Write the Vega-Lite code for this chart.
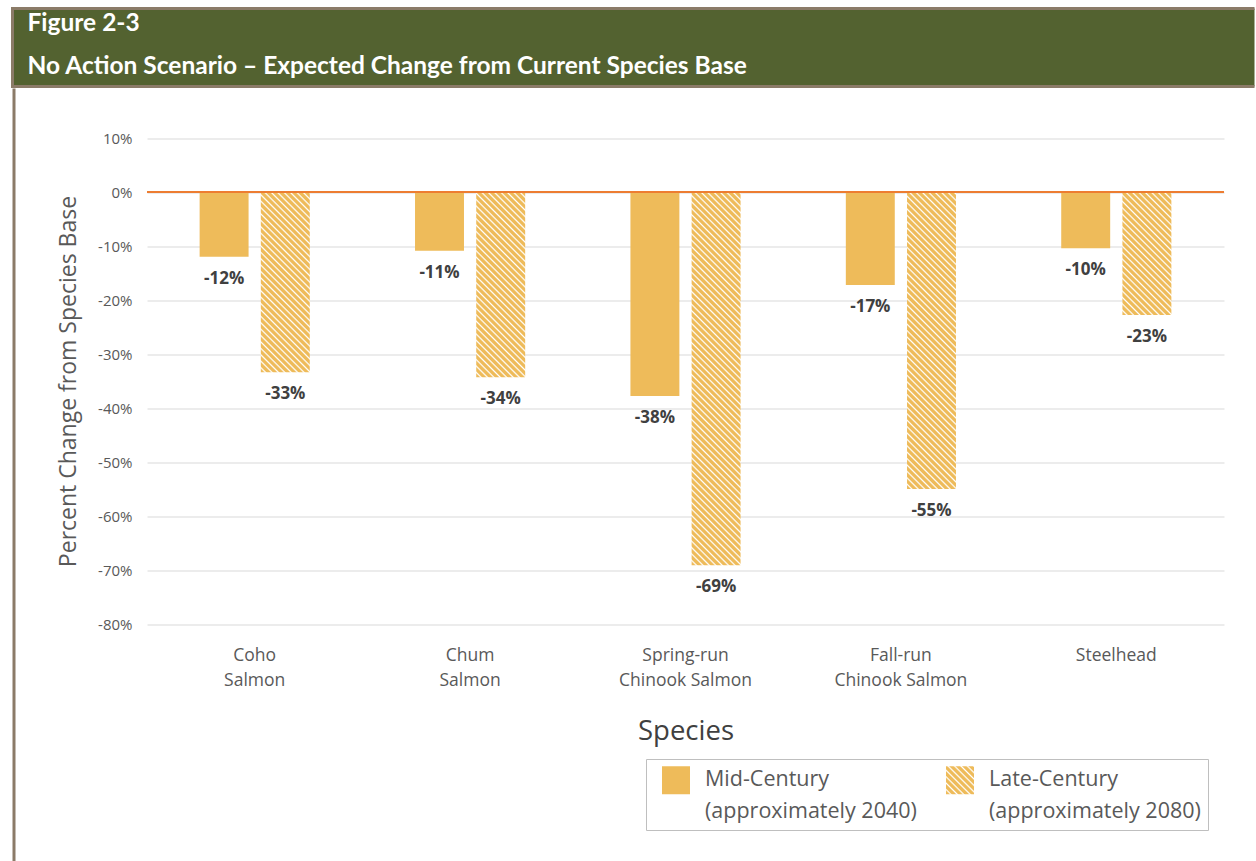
{
  "$schema": "https://vega.github.io/schema/vega-lite/v6.json",
  "padding": {"left": 10.5, "top": 6.5, "right": 0, "bottom": 0},
  "background": "#FFFFFF",
  "config": {
    "view": {"stroke": null},
    "font": "Open Sans",
    "style": {"guide-label": {"lineHeight": 32}},
    "locale": {"number": {"decimal": ".", "thousands": ",", "grouping": [3], "currency": ["$", ""], "minus": "-"}}
  },
  "params": [
    {"name": "hatch", "value": [
      {"offset":0,"color":"#EEBB5A"},{"offset":0.006,"color":"#EEBB5A"},{"offset":0.0095,"color":"#FFFFFF"},
      {"offset":0.0125,"color":"#EEBB5A"},{"offset":0.0185,"color":"#EEBB5A"},{"offset":0.022,"color":"#FFFFFF"},
      {"offset":0.025,"color":"#EEBB5A"},{"offset":0.031,"color":"#EEBB5A"},{"offset":0.0345,"color":"#FFFFFF"},
      {"offset":0.0375,"color":"#EEBB5A"},{"offset":0.0435,"color":"#EEBB5A"},{"offset":0.047,"color":"#FFFFFF"},
      {"offset":0.05,"color":"#EEBB5A"},{"offset":0.056,"color":"#EEBB5A"},{"offset":0.0595,"color":"#FFFFFF"},
      {"offset":0.0625,"color":"#EEBB5A"},{"offset":0.0685,"color":"#EEBB5A"},{"offset":0.072,"color":"#FFFFFF"},
      {"offset":0.075,"color":"#EEBB5A"},{"offset":0.081,"color":"#EEBB5A"},{"offset":0.0845,"color":"#FFFFFF"},
      {"offset":0.0875,"color":"#EEBB5A"},{"offset":0.0935,"color":"#EEBB5A"},{"offset":0.097,"color":"#FFFFFF"},
      {"offset":0.1,"color":"#EEBB5A"},{"offset":0.106,"color":"#EEBB5A"},{"offset":0.1095,"color":"#FFFFFF"},
      {"offset":0.1125,"color":"#EEBB5A"},{"offset":0.1185,"color":"#EEBB5A"},{"offset":0.122,"color":"#FFFFFF"},
      {"offset":0.125,"color":"#EEBB5A"},{"offset":0.131,"color":"#EEBB5A"},{"offset":0.1345,"color":"#FFFFFF"},
      {"offset":0.1375,"color":"#EEBB5A"},{"offset":0.1435,"color":"#EEBB5A"},{"offset":0.147,"color":"#FFFFFF"},
      {"offset":0.15,"color":"#EEBB5A"},{"offset":0.156,"color":"#EEBB5A"},{"offset":0.1595,"color":"#FFFFFF"},
      {"offset":0.1625,"color":"#EEBB5A"},{"offset":0.1685,"color":"#EEBB5A"},{"offset":0.172,"color":"#FFFFFF"},
      {"offset":0.175,"color":"#EEBB5A"},{"offset":0.181,"color":"#EEBB5A"},{"offset":0.1845,"color":"#FFFFFF"},
      {"offset":0.1875,"color":"#EEBB5A"},{"offset":0.1935,"color":"#EEBB5A"},{"offset":0.197,"color":"#FFFFFF"},
      {"offset":0.2,"color":"#EEBB5A"},{"offset":0.206,"color":"#EEBB5A"},{"offset":0.2095,"color":"#FFFFFF"},
      {"offset":0.2125,"color":"#EEBB5A"},{"offset":0.2185,"color":"#EEBB5A"},{"offset":0.222,"color":"#FFFFFF"},
      {"offset":0.225,"color":"#EEBB5A"},{"offset":0.231,"color":"#EEBB5A"},{"offset":0.2345,"color":"#FFFFFF"},
      {"offset":0.2375,"color":"#EEBB5A"},{"offset":0.2435,"color":"#EEBB5A"},{"offset":0.247,"color":"#FFFFFF"},
      {"offset":0.25,"color":"#EEBB5A"},{"offset":0.256,"color":"#EEBB5A"},{"offset":0.2595,"color":"#FFFFFF"},
      {"offset":0.2625,"color":"#EEBB5A"},{"offset":0.2685,"color":"#EEBB5A"},{"offset":0.272,"color":"#FFFFFF"},
      {"offset":0.275,"color":"#EEBB5A"},{"offset":0.281,"color":"#EEBB5A"},{"offset":0.2845,"color":"#FFFFFF"},
      {"offset":0.2875,"color":"#EEBB5A"},{"offset":0.2935,"color":"#EEBB5A"},{"offset":0.297,"color":"#FFFFFF"},
      {"offset":0.3,"color":"#EEBB5A"},{"offset":0.306,"color":"#EEBB5A"},{"offset":0.3095,"color":"#FFFFFF"},
      {"offset":0.3125,"color":"#EEBB5A"},{"offset":0.3185,"color":"#EEBB5A"},{"offset":0.322,"color":"#FFFFFF"},
      {"offset":0.325,"color":"#EEBB5A"},{"offset":0.331,"color":"#EEBB5A"},{"offset":0.3345,"color":"#FFFFFF"},
      {"offset":0.3375,"color":"#EEBB5A"},{"offset":0.3435,"color":"#EEBB5A"},{"offset":0.347,"color":"#FFFFFF"},
      {"offset":0.35,"color":"#EEBB5A"},{"offset":0.356,"color":"#EEBB5A"},{"offset":0.3595,"color":"#FFFFFF"},
      {"offset":0.3625,"color":"#EEBB5A"},{"offset":0.3685,"color":"#EEBB5A"},{"offset":0.372,"color":"#FFFFFF"},
      {"offset":0.375,"color":"#EEBB5A"},{"offset":0.381,"color":"#EEBB5A"},{"offset":0.3845,"color":"#FFFFFF"},
      {"offset":0.3875,"color":"#EEBB5A"},{"offset":0.3935,"color":"#EEBB5A"},{"offset":0.397,"color":"#FFFFFF"},
      {"offset":0.4,"color":"#EEBB5A"},{"offset":0.406,"color":"#EEBB5A"},{"offset":0.4095,"color":"#FFFFFF"},
      {"offset":0.4125,"color":"#EEBB5A"},{"offset":0.4185,"color":"#EEBB5A"},{"offset":0.422,"color":"#FFFFFF"},
      {"offset":0.425,"color":"#EEBB5A"},{"offset":0.431,"color":"#EEBB5A"},{"offset":0.4345,"color":"#FFFFFF"},
      {"offset":0.4375,"color":"#EEBB5A"},{"offset":0.4435,"color":"#EEBB5A"},{"offset":0.447,"color":"#FFFFFF"},
      {"offset":0.45,"color":"#EEBB5A"},{"offset":0.456,"color":"#EEBB5A"},{"offset":0.4595,"color":"#FFFFFF"},
      {"offset":0.4625,"color":"#EEBB5A"},{"offset":0.4685,"color":"#EEBB5A"},{"offset":0.472,"color":"#FFFFFF"},
      {"offset":0.475,"color":"#EEBB5A"},{"offset":0.481,"color":"#EEBB5A"},{"offset":0.4845,"color":"#FFFFFF"},
      {"offset":0.4875,"color":"#EEBB5A"},{"offset":0.4935,"color":"#EEBB5A"},{"offset":0.497,"color":"#FFFFFF"},
      {"offset":0.5,"color":"#EEBB5A"},{"offset":0.506,"color":"#EEBB5A"},{"offset":0.5095,"color":"#FFFFFF"},
      {"offset":0.5125,"color":"#EEBB5A"},{"offset":0.5185,"color":"#EEBB5A"},{"offset":0.522,"color":"#FFFFFF"},
      {"offset":0.525,"color":"#EEBB5A"},{"offset":0.531,"color":"#EEBB5A"},{"offset":0.5345,"color":"#FFFFFF"},
      {"offset":0.5375,"color":"#EEBB5A"},{"offset":0.5435,"color":"#EEBB5A"},{"offset":0.547,"color":"#FFFFFF"},
      {"offset":0.55,"color":"#EEBB5A"},{"offset":0.556,"color":"#EEBB5A"},{"offset":0.5595,"color":"#FFFFFF"},
      {"offset":0.5625,"color":"#EEBB5A"},{"offset":0.5685,"color":"#EEBB5A"},{"offset":0.572,"color":"#FFFFFF"},
      {"offset":0.575,"color":"#EEBB5A"},{"offset":0.581,"color":"#EEBB5A"},{"offset":0.5845,"color":"#FFFFFF"},
      {"offset":0.5875,"color":"#EEBB5A"},{"offset":0.5935,"color":"#EEBB5A"},{"offset":0.597,"color":"#FFFFFF"},
      {"offset":0.6,"color":"#EEBB5A"},{"offset":0.606,"color":"#EEBB5A"},{"offset":0.6095,"color":"#FFFFFF"},
      {"offset":0.6125,"color":"#EEBB5A"},{"offset":0.6185,"color":"#EEBB5A"},{"offset":0.622,"color":"#FFFFFF"},
      {"offset":0.625,"color":"#EEBB5A"},{"offset":0.631,"color":"#EEBB5A"},{"offset":0.6345,"color":"#FFFFFF"},
      {"offset":0.6375,"color":"#EEBB5A"},{"offset":0.6435,"color":"#EEBB5A"},{"offset":0.647,"color":"#FFFFFF"},
      {"offset":0.65,"color":"#EEBB5A"},{"offset":0.656,"color":"#EEBB5A"},{"offset":0.6595,"color":"#FFFFFF"},
      {"offset":0.6625,"color":"#EEBB5A"},{"offset":0.6685,"color":"#EEBB5A"},{"offset":0.672,"color":"#FFFFFF"},
      {"offset":0.675,"color":"#EEBB5A"},{"offset":0.681,"color":"#EEBB5A"},{"offset":0.6845,"color":"#FFFFFF"},
      {"offset":0.6875,"color":"#EEBB5A"},{"offset":0.6935,"color":"#EEBB5A"},{"offset":0.697,"color":"#FFFFFF"},
      {"offset":0.7,"color":"#EEBB5A"},{"offset":0.706,"color":"#EEBB5A"},{"offset":0.7095,"color":"#FFFFFF"},
      {"offset":0.7125,"color":"#EEBB5A"},{"offset":0.7185,"color":"#EEBB5A"},{"offset":0.722,"color":"#FFFFFF"},
      {"offset":0.725,"color":"#EEBB5A"},{"offset":0.731,"color":"#EEBB5A"},{"offset":0.7345,"color":"#FFFFFF"},
      {"offset":0.7375,"color":"#EEBB5A"},{"offset":0.7435,"color":"#EEBB5A"},{"offset":0.747,"color":"#FFFFFF"},
      {"offset":0.75,"color":"#EEBB5A"},{"offset":0.756,"color":"#EEBB5A"},{"offset":0.7595,"color":"#FFFFFF"},
      {"offset":0.7625,"color":"#EEBB5A"},{"offset":0.7685,"color":"#EEBB5A"},{"offset":0.772,"color":"#FFFFFF"},
      {"offset":0.775,"color":"#EEBB5A"},{"offset":0.781,"color":"#EEBB5A"},{"offset":0.7845,"color":"#FFFFFF"},
      {"offset":0.7875,"color":"#EEBB5A"},{"offset":0.7935,"color":"#EEBB5A"},{"offset":0.797,"color":"#FFFFFF"},
      {"offset":0.8,"color":"#EEBB5A"},{"offset":0.806,"color":"#EEBB5A"},{"offset":0.8095,"color":"#FFFFFF"},
      {"offset":0.8125,"color":"#EEBB5A"},{"offset":0.8185,"color":"#EEBB5A"},{"offset":0.822,"color":"#FFFFFF"},
      {"offset":0.825,"color":"#EEBB5A"},{"offset":0.831,"color":"#EEBB5A"},{"offset":0.8345,"color":"#FFFFFF"},
      {"offset":0.8375,"color":"#EEBB5A"}
    ]}
  ],
  "spacing": 0,
  "vconcat": [
    {
      "width": 1242,
      "height": 78,
      "view": {"fill": "#536230", "stroke": "#8B7B68", "strokeWidth": 3, "strokeDash": [1242, 78, 1320]},
      "title": {
        "text": "Figure 2-3",
        "subtitle": "No Action Scenario – Expected Change from Current Species Base",
        "anchor": "start",
        "frame": "group",
        "orient": "top",
        "offset": -71.25,
        "dx": 15,
        "baseline": "top",
        "font": "Lato",
        "fontSize": 24.5,
        "fontWeight": "bold",
        "color": "#FFFFFF",
        "subtitleFont": "Lato",
        "subtitleFontSize": 24.5,
        "subtitleFontWeight": "bold",
        "subtitleColor": "#FFFFFF",
        "subtitlePadding": 18.5
      },
      "data": {"values": [{}]},
      "mark": {"type": "text", "text": ""}
    },
    {
      "spacing": 41.5,
      "hconcat": [
        {
          "width": 3,
          "height": 773.5,
          "view": {"fill": "#8B7B68", "stroke": null},
          "data": {"values": [{}]},
          "mark": {"type": "text", "text": ""}
        },
        {
          "width": 1077,
          "height": 535.5,
          "data": {"values": [
            {"species": "Coho Salmon", "period": "Mid-Century (approximately 2040)", "pct": -0.120},
            {"species": "Coho Salmon", "period": "Late-Century (approximately 2080)", "pct": -0.334},
            {"species": "Chum Salmon", "period": "Mid-Century (approximately 2040)", "pct": -0.109},
            {"species": "Chum Salmon", "period": "Late-Century (approximately 2080)", "pct": -0.343},
            {"species": "Spring-run Chinook Salmon", "period": "Mid-Century (approximately 2040)", "pct": -0.378},
            {"species": "Spring-run Chinook Salmon", "period": "Late-Century (approximately 2080)", "pct": -0.691},
            {"species": "Fall-run Chinook Salmon", "period": "Mid-Century (approximately 2040)", "pct": -0.172},
            {"species": "Fall-run Chinook Salmon", "period": "Late-Century (approximately 2080)", "pct": -0.550},
            {"species": "Steelhead", "period": "Mid-Century (approximately 2040)", "pct": -0.104},
            {"species": "Steelhead", "period": "Late-Century (approximately 2080)", "pct": -0.228}
          ]},
          "layer": [
            {
              "transform": [{"filter": "datum.period === 'Mid-Century (approximately 2040)'"}],
              "mark": {"type": "bar"},
              "encoding": {
                "x": {
                  "field": "species", "type": "nominal", "sort": null, "title": "Species",
                  "scale": {"paddingInner": 0, "paddingOuter": 0},
                  "axis": {
                    "domain": false, "ticks": false, "grid": false, "labelAngle": 0,
                    "labelFont": "Open Sans", "labelFontSize": 17.5, "labelColor": "#595959",
                    "labelLineHeight": 25, "labelPadding": 22, "labelBaseline": "top",
                    "labelExpr": "indexof(datum.label, ' ') < 0 ? datum.label : [substring(datum.label, 0, indexof(datum.label, ' ')), substring(datum.label, indexof(datum.label, ' ') + 1)]",
                    "titleFont": "Open Sans", "titleFontSize": 27.5, "titleFontWeight": "normal",
                    "titleColor": "#404040", "titlePadding": 29
                  }
                },
                "xOffset": {
                  "field": "period", "type": "nominal", "sort": null,
                  "scale": {"domain": ["Mid-Century (approximately 2040)", "Late-Century (approximately 2080)"], "paddingInner": 0.2, "paddingOuter": 0.86}
                },
                "y": {
                  "field": "pct", "type": "quantitative", "title": "Percent Change from Species Base",
                  "scale": {"domain": [-0.8, 0.19167], "nice": false, "zero": false},
                  "axis": {
                    "values": [-0.8, -0.7, -0.6, -0.5, -0.4, -0.3, -0.2, -0.1, 0, 0.1],
                    "format": ".0%",
                    "domain": false, "ticks": false,
                    "labelFont": "Open Sans", "labelFontSize": 15, "labelColor": "#595959", "labelPadding": 15,
                    "gridColor": "#D9D9D9", "gridWidth": 1,
                    "titleFont": "Open Sans", "titleFontSize": 23, "titleFontWeight": "normal",
                    "titleColor": "#595959", "titlePadding": 17, "titleY": 292.5
                  }
                },
                "fill": {
                  "field": "period", "type": "nominal",
                  "scale": {
                    "domain": ["Mid-Century (approximately 2040)", "Late-Century (approximately 2080)"],
                    "range": ["#EEBB5A", {"expr": "{gradient: 'linear', x1: 0, y1: 1, x2: 9.143, y2: -8.143, stops: hatch}"}]
                  },
                  "legend": {
                    "title": null,
                    "orient": "none",
                    "legendX": 633.5,
                    "legendY": 750.5,
                    "direction": "horizontal",
                    "columns": 2,
                    "symbolType": "square",
                    "symbolSize": 784,
                    "symbolStrokeWidth": 0,
                    "symbolOffset": 9,
                    "labelFont": "Open Sans",
                    "labelFontSize": 21.5,
                    "labelColor": "#595959",
                    "labelOffset": 15,
                    "labelLimit": 0,
                    "columnPadding": 20,
                    "padding": 7,
                    "strokeColor": "#BFBFBF",
                    "fillColor": "#FFFFFF",
                    "labelExpr": "[substring(datum.label, 0, indexof(datum.label, ' ')), substring(datum.label, indexof(datum.label, ' ') + 1)]"
                  }
                }
              }
            },
            {
              "transform": [{"filter": "datum.period === 'Late-Century (approximately 2080)'"}],
              "mark": {"type": "bar"},
              "encoding": {
                "x": {"field": "species", "type": "nominal", "sort": null, "title": "Species"},
                "xOffset": {"field": "period", "type": "nominal", "sort": null},
                "y": {"field": "pct", "type": "quantitative", "title": "Percent Change from Species Base", "scale": {"domain": [-0.8, 0.19167], "nice": false, "zero": false}},
                "fill": {"value": {"expr": "{gradient: 'linear', x1: 0, y1: 1, x2: 512 * 49 / (2401 + pow(540 * datum.pct, 2)), y2: 1 + 512 * 540 * datum.pct / (2401 + pow(540 * datum.pct, 2)), stops: hatch}"}}
              }
            },
            {
              "mark": {"type": "rule", "color": "#ED7D31", "strokeWidth": 2},
              "encoding": {
                "y": {"datum": 0, "type": "quantitative", "title": "Percent Change from Species Base", "scale": {"domain": [-0.8, 0.19167], "nice": false, "zero": false}}
              }
            },
            {
              "mark": {"type": "text", "baseline": "middle", "dy": 22, "font": "Open Sans", "fontSize": 17, "fontWeight": "bold", "color": "#404040"},
              "encoding": {
                "x": {"field": "species", "type": "nominal", "sort": null, "title": "Species"},
                "xOffset": {"field": "period", "type": "nominal", "sort": null},
                "y": {"field": "pct", "type": "quantitative", "title": "Percent Change from Species Base", "scale": {"domain": [-0.8, 0.19167], "nice": false, "zero": false}},
                "text": {"field": "pct", "type": "quantitative", "format": ".0%"}
              }
            }
          ]
        }
      ]
    }
  ]
}
